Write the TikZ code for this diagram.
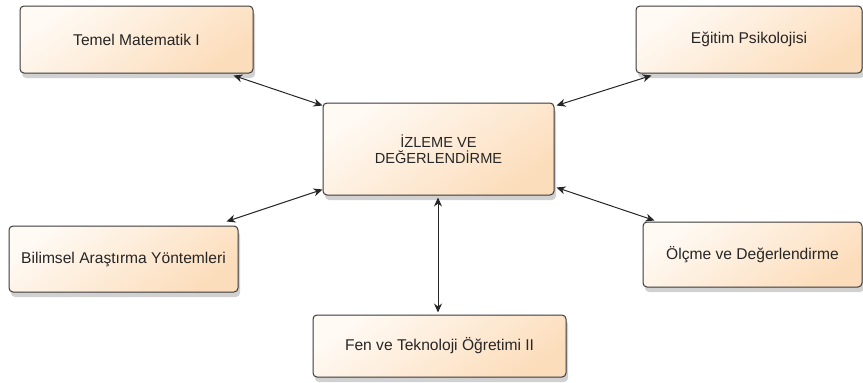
\documentclass[tikz,border=0pt]{standalone}
\usepackage{fontspec}
\setmainfont{Liberation Sans}
\usetikzlibrary{shadows,arrows.meta}
\definecolor{boxlight}{HTML}{FFFAF4}
\definecolor{boxdark}{HTML}{FCDDBB}
\definecolor{boxline}{HTML}{3A3A3A}
\begin{document}
\begin{tikzpicture}[x=1pt, y=-1pt, font=\fontsize{15.6}{17.5}\selectfont, line join=round, line cap=round, >={Stealth[length=9pt,width=8pt]},
	kutu/.style={rectangle, rounded corners=4pt, draw=boxline, line width=1pt, text=black!85,
		top color=boxlight, bottom color=boxdark, shading angle=35, align=center, inner sep=0pt,
		drop shadow={shadow xshift=2pt, shadow yshift=-5pt, fill=black, opacity=.18}},
	bag/.style={<->, line width=1pt, black!85}]
	%			\draw[gray] (0,0) grid[step=50] (863,383);
	\useasboundingbox (0,0) rectangle (863,383);
	\node[kutu, minimum width=233pt, minimum height=67pt] (tm) at (136.5,39.5) {Temel Matematik I};
	\node[kutu, minimum width=226pt, minimum height=67pt] (ep) at (749,39.5) {Eğitim Psikolojisi};
	\node[kutu, minimum width=231pt, minimum height=92pt, font=\fontsize{14.6}{16}\selectfont] (iz) at (438.5,149) {İZLEME VE\\DEĞERLENDİRME};
	\node[kutu, minimum width=229pt, minimum height=66pt] (bay) at (123.5,259) {Bilimsel Araştırma Yöntemleri};
	\node[kutu, minimum width=219pt, minimum height=65pt] (od) at (752.5,254.5) {Ölçme ve Değerlendirme};
	\node[kutu, minimum width=253pt, minimum height=62pt] (fto) at (439.5,346) {Fen ve Teknoloji Öğretimi II};
	
	\draw[bag] ([xshift=-20pt,yshift=-2pt]tm.south east) -- ([yshift=-3pt]iz.north west);
	\draw[bag] ([xshift=16pt,yshift=-2pt]ep.south west) -- ([xshift=2pt,yshift=-3pt]iz.north east);
	\draw[bag] ([xshift=-12pt,yshift=4pt]bay.north east) -- ([yshift=6pt]iz.south west);
	\draw[bag] ([xshift=12pt,yshift=1pt]od.north west) -- ([xshift=2pt,yshift=8pt]iz.south east);
	\draw[bag] ([xshift=-.5pt,yshift=-2pt]iz.south) -- ([xshift=-1.5pt,yshift=2pt]fto.north);
\end{tikzpicture}
\end{document}
